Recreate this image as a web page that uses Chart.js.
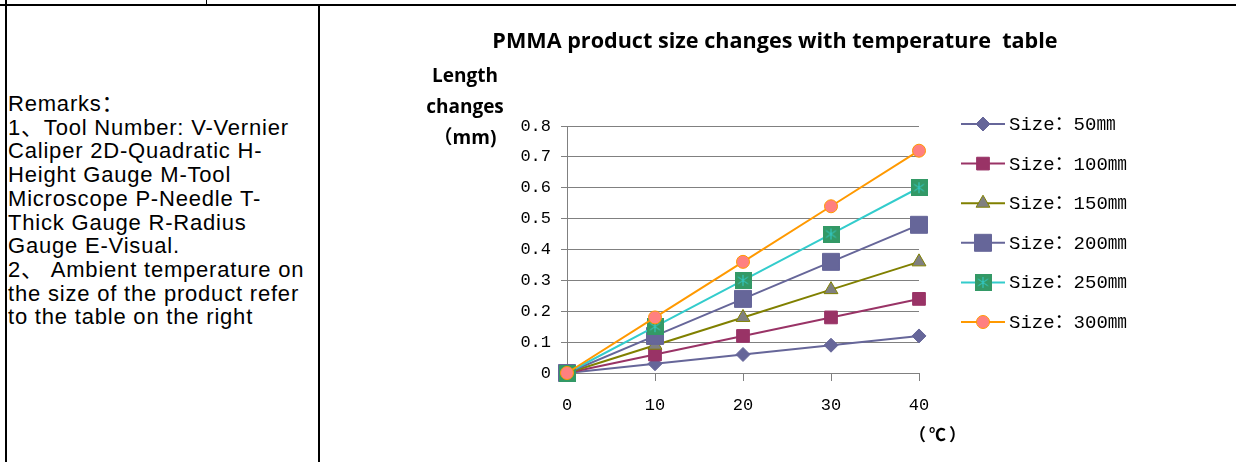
<!DOCTYPE html>
<html><head><meta charset="utf-8">
<script src="https://cdn.jsdelivr.net/npm/chart.js@4"></script>
<style>
html,body{margin:0;padding:0;background:#fff;}
body{width:1236px;height:462px;position:relative;overflow:hidden;}
.b{position:absolute;background:#000;}
#remarks{position:absolute;left:8px;top:92px;font-family:"Liberation Sans","Noto Sans CJK SC",sans-serif;font-size:22px;letter-spacing:0.8px;line-height:23.7px;color:#000;white-space:nowrap;}
#c{position:absolute;left:0;top:0;}
</style></head><body>
<div class="b" style="left:0;top:4px;width:1236px;height:2px"></div>
<div class="b" style="left:5px;top:0;width:2px;height:462px"></div>
<div class="b" style="left:206px;top:0;width:1px;height:5px"></div>
<div class="b" style="left:318px;top:5px;width:2px;height:457px"></div>
<div id="remarks">Remarks：<br>1、Tool Number: V-Vernier<br>Caliper 2D-Quadratic H-<br>Height Gauge M-Tool<br>Microscope P-Needle T-<br>Thick Gauge R-Radius<br>Gauge E-Visual.<br>2、 Ambient temperature on<br>the size of the product refer<br>to the table on the right</div>
<canvas id="c" width="1236" height="462"></canvas>
<script>
// ---- data ----
const temperatures = [0, 10, 20, 30, 40];
const size50  = [0, 0.03, 0.06, 0.09, 0.12];
const size100 = [0, 0.06, 0.12, 0.18, 0.24];
const size150 = [0, 0.09, 0.18, 0.27, 0.36];
const size200 = [0, 0.12, 0.24, 0.36, 0.48];
const size250 = [0, 0.15, 0.30, 0.45, 0.60];
const size300 = [0, 0.18, 0.36, 0.54, 0.72];
const seriesNames = ['Size：50㎜', 'Size：100㎜', 'Size：150㎜', 'Size：200㎜', 'Size：250㎜', 'Size：300㎜'];
const chartTitle = 'PMMA product size changes with temperature  table';
const yTitleLines = ['Length', 'changes', '（mm)'];
const xTitle = '（℃）';

// custom marker: green square with cyan asterisk
function asteriskMarker() {
  const s = 17, cv = document.createElement('canvas');
  cv.width = s; cv.height = s;
  const g = cv.getContext('2d');
  g.fillStyle = '#339966'; g.fillRect(0, 0, s, s);
  g.strokeStyle = '#33CCCC'; g.lineWidth = 1;
  const c = s / 2;
  g.beginPath();
  g.moveTo(c, 3); g.lineTo(c, s - 3);
  g.moveTo(3.5, 5); g.lineTo(s - 3.5, s - 5);
  g.moveTo(s - 3.5, 5); g.lineTo(3.5, s - 5);
  g.stroke();
  return cv;
}
const starImg = asteriskMarker();

const pts = arr => arr.map((v, i) => ({x: temperatures[i], y: v}));
const styles = [
  {line: '#666699', fill: '#666699', border: '#666699', style: 'rectRot', r: 7},
  {line: '#993366', fill: '#993366', border: '#993366', style: 'rect', r: 9},
  {line: '#808000', fill: '#808080', border: '#808000', style: 'triangle', r: 8},
  {line: '#666699', fill: '#666699', border: '#666699', style: 'rect', r: 12},
  {line: '#33CCCC', fill: '#339966', border: '#339966', style: starImg, r: 8},
  {line: '#FF9900', fill: '#FF8080', border: '#FF9900', style: 'circle', r: 6.5}
];
const seriesData = [size50, size100, size150, size200, size250, size300];
const datasets = seriesData.map((d, i) => ({
  label: seriesNames[i],
  data: pts(d),
  borderColor: styles[i].line,
  borderWidth: 2,
  pointStyle: styles[i].style,
  pointRadius: styles[i].r,
  pointBackgroundColor: styles[i].fill,
  pointBorderColor: styles[i].border,
  pointBorderWidth: 1,
  clip: false,
  order: 6 - i,
  tension: 0
}));

const monoFont = {family: '"Liberation Mono","Noto Sans CJK SC",monospace', size: 17};

const decor = {
  id: 'decor',
  afterDraw(chart) {
    const ctx = chart.ctx;
    ctx.save();
    ctx.fillStyle = '#000';
    ctx.textAlign = 'center';
    ctx.textBaseline = 'middle';
    ctx.font = 'bold 21.6px "Open Sans", "Noto Sans CJK SC", sans-serif';
    ctx.fillText(chartTitle, 775, 42);
    ctx.font = 'bold 19px "Open Sans", "Noto Sans CJK SC", sans-serif';
    yTitleLines.forEach((t, i) => ctx.fillText(t, 465, 77 + i * 31));
    ctx.font = 'bold 17px "Noto Sans CJK SC", sans-serif';
    ctx.letterSpacing = '3px';
    ctx.fillText(xTitle, 939, 435);
    ctx.letterSpacing = '0px';
    // legend
    ctx.textAlign = 'left';
    ctx.font = '19px "Liberation Mono","Noto Sans CJK SC",monospace';
    chart.data.datasets.forEach((ds, i) => {
      const y = 124 + i * 39.6;
      ctx.strokeStyle = ds.borderColor; ctx.lineWidth = 2;
      ctx.beginPath(); ctx.moveTo(961, y); ctx.lineTo(1005, y); ctx.stroke();
      ctx.fillStyle = ds.pointBackgroundColor; ctx.strokeStyle = ds.pointBorderColor; ctx.lineWidth = 1;
      Chart.helpers.drawPoint(ctx, {pointStyle: ds.pointStyle, radius: ds.pointRadius, borderWidth: 1, rotation: 0}, 983, y);
      ctx.fillStyle = '#000';
      ctx.fillText(ds.label, 1009, y + 1);
    });
    ctx.restore();
  }
};

new Chart(document.getElementById('c'), {
  type: 'line',
  data: {datasets},
  options: {
    responsive: false,
    animation: false,
    devicePixelRatio: 1,
    layout: {padding: {left: 507, right: 317, top: 126, bottom: 44}},
    plugins: {legend: {display: false}, title: {display: false}, tooltip: {enabled: false}},
    scales: {
      x: {
        type: 'linear', min: 0, max: 40,
        ticks: {stepSize: 10, color: '#000', font: monoFont, padding: 14, maxRotation: 0},
        grid: {drawOnChartArea: false, drawTicks: true, tickLength: 8, color: '#808080'},
        border: {display: true, color: '#808080', width: 1},
        afterFit(s) { s.height = 45; }
      },
      y: {
        type: 'linear', min: 0, max: 0.8,
        ticks: {stepSize: 0.1, color: '#000', font: monoFont, padding: 10},
        grid: {drawTicks: true, tickLength: 6, color: '#808080'},
        border: {display: true, color: '#808080', width: 1},
        afterFit(s) { s.width = 60; }
      }
    }
  },
  plugins: [decor]
});
</script>
</body></html>
